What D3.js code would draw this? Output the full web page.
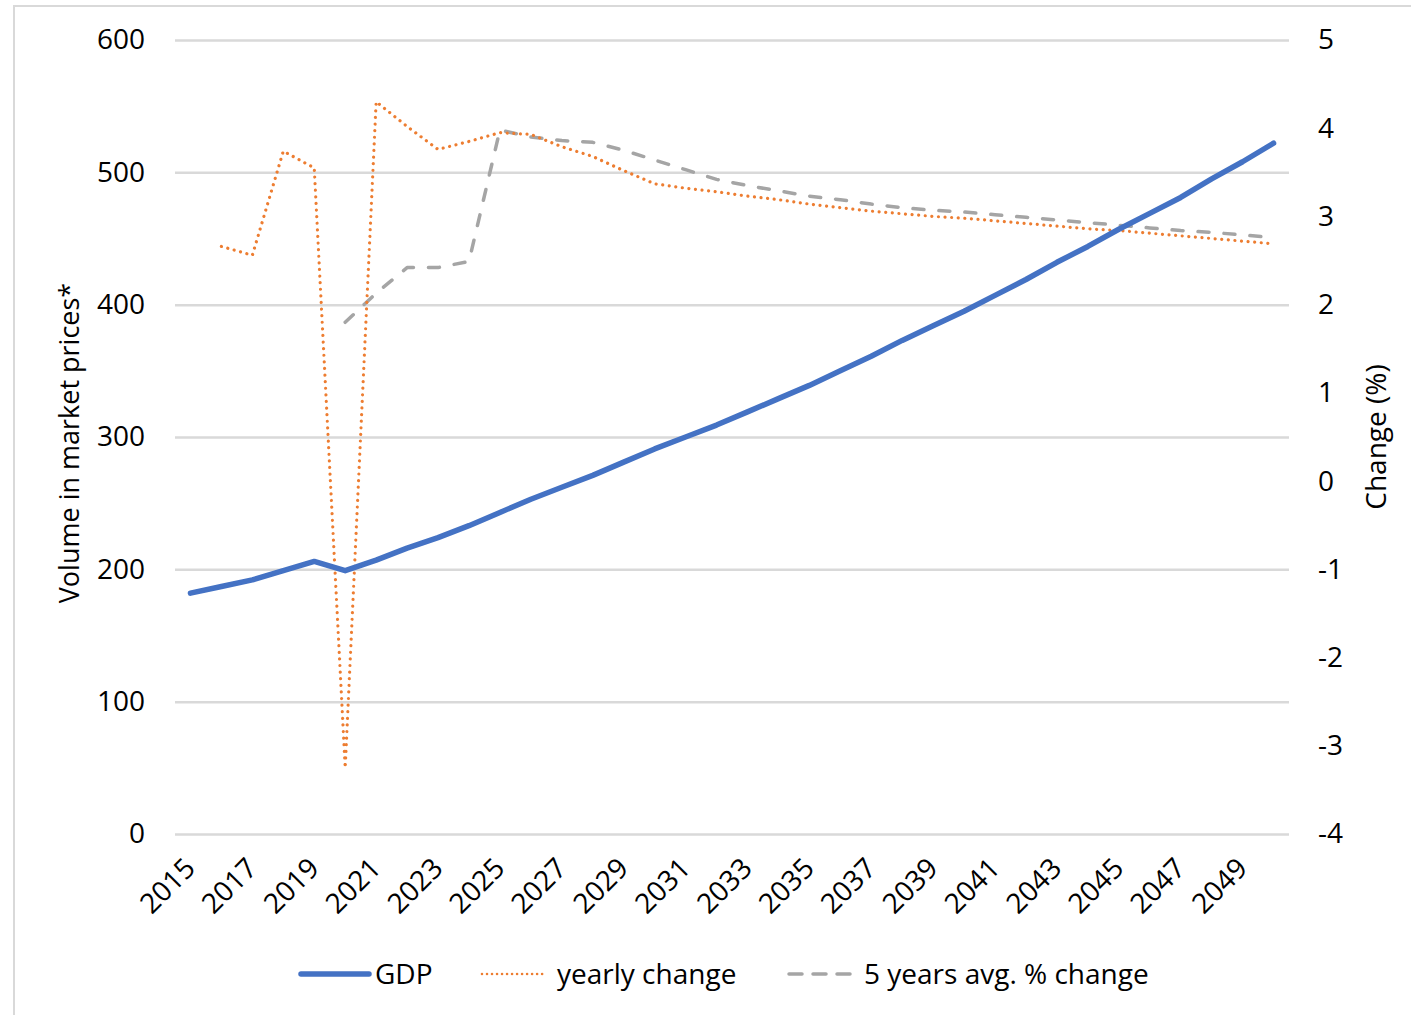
<!DOCTYPE html>
<html>
<head>
<meta charset="utf-8">
<script src="https://cdn.jsdelivr.net/npm/d3@7"></script>
<style>
  html, body { margin: 0; padding: 0; background: #fff; }
  svg text { font-family: "Open Sans", "Noto Sans", sans-serif; fill: #000; }
</style>
</head>
<body>
<svg id="chart" width="1411" height="1015"></svg>
<script>
// Years on the category axis
const years = d3.range(2015, 2051);

// GDP, volume in market prices (left axis)
const gdp = [182, 187, 192, 199, 206, 199, 207, 216, 224, 233,
             243, 253, 262, 271, 281, 291, 300, 309, 319, 329,
             339, 350, 361, 373, 384, 395, 407, 419, 432, 444,
             457, 469, 481, 495, 508, 522];

// Yearly change in % (right axis), from 2016
const yearlyChange = [null, 2.66, 2.56, 3.74, 3.55, -3.25, 4.30, 4.02, 3.76, 3.85,
                      3.95, 3.93, 3.79, 3.68, 3.52, 3.37, 3.32, 3.28, 3.23, 3.19,
                      3.14, 3.10, 3.06, 3.03, 3.00, 2.98, 2.95, 2.92, 2.89, 2.86,
                      2.84, 2.81, 2.78, 2.75, 2.72, 2.69];

// 5 years average % change (right axis), from 2020
const avgChange5y = [null, null, null, null, null, 1.80, 2.13, 2.42, 2.42, 2.49,
                     3.98, 3.90, 3.86, 3.84, 3.75, 3.64, 3.53, 3.42, 3.35, 3.29,
                     3.23, 3.19, 3.14, 3.10, 3.07, 3.05, 3.02, 2.99, 2.96, 2.93,
                     2.90, 2.87, 2.84, 2.82, 2.79, 2.76];

// Axis ticks
const leftTicks = [0, 100, 200, 300, 400, 500, 600];
const rightTicks = [-4, -3, -2, -1, 0, 1, 2, 3, 4, 5];
const xTickYears = d3.range(2015, 2050, 2);
const xTickLabels = xTickYears.map(String);

const seriesNames = ["GDP", "yearly change", "5 years avg. % change"];
const leftTitle = "Volume in market prices*";
const rightTitle = "Change (%)";

const svg = d3.select("#chart");
const plot = { left: 175, right: 1289, top: 40, bottom: 834 };
const fs = 28;

// outer chart frame
svg.append("rect")
  .attr("x", 14).attr("y", 6)
  .attr("width", 1411).attr("height", 1015)
  .attr("fill", "none").attr("stroke", "#d9d9d9").attr("stroke-width", 2);

const x = d3.scaleBand().domain(years).range([plot.left, plot.right]).padding(0);
const xc = d => x(d) + x.bandwidth() / 2;
const yL = d3.scaleLinear().domain([0, 600]).range([plot.bottom, plot.top]);
const yR = d3.scaleLinear().domain([-4, 5]).range([plot.bottom, plot.top]);

// left axis with gridlines
const gL = svg.append("g")
  .attr("transform", `translate(${plot.left},0)`)
  .call(d3.axisLeft(yL).tickValues(leftTicks).tickFormat(d => String(d))
    .tickSize(-(plot.right - plot.left)).tickPadding(30));
gL.select(".domain").remove();
gL.selectAll(".tick line").attr("stroke", "#d9d9d9").attr("stroke-width", 2.5);
gL.selectAll(".tick text").attr("font-size", fs).attr("fill", "#000");

// right axis (plain hyphen for negatives)
const gR = svg.append("g")
  .attr("transform", `translate(${plot.right},0)`)
  .call(d3.axisRight(yR).tickValues(rightTicks).tickFormat(d => String(d))
    .tickSize(0).tickPadding(29));
gR.select(".domain").remove();
gR.selectAll(".tick text").attr("font-size", fs).attr("fill", "#000");

// category axis with rotated labels
const gX = svg.append("g")
  .attr("transform", `translate(0,${plot.bottom})`)
  .call(d3.axisBottom(x).tickValues(xTickYears).tickSize(0)
    .tickFormat((d, i) => xTickLabels[i]));
gX.select(".domain").remove();
gX.selectAll(".tick text")
  .attr("font-size", fs).attr("fill", "#000")
  .attr("text-anchor", "end")
  .attr("y", 0).attr("dy", 0)
  .attr("transform", `translate(${x.bandwidth() / 2 - 9},36) rotate(-45)`);

// axis titles
svg.append("text")
  .attr("transform", `translate(79,443) rotate(-90)`)
  .attr("text-anchor", "middle").attr("font-size", 27)
  .text(leftTitle);
svg.append("text")
  .attr("transform", `translate(1386,437) rotate(-90)`)
  .attr("text-anchor", "middle").attr("font-size", fs)
  .text(rightTitle);

// series
const lineL = d3.line()
  .defined(d => d[1] != null)
  .x(d => xc(d[0])).y(d => yL(d[1]));
const lineR = d3.line()
  .defined(d => d[1] != null)
  .x(d => xc(d[0])).y(d => yR(d[1]));

svg.append("path")
  .datum(years.map((yr, i) => [yr, avgChange5y[i]]))
  .attr("d", lineR)
  .attr("fill", "none").attr("stroke", "#a5a5a5").attr("stroke-width", 3.5)
  .attr("stroke-dasharray", "11 15").attr("stroke-linecap", "round")
  .attr("stroke-linejoin", "round");

svg.append("path")
  .datum(years.map((yr, i) => [yr, yearlyChange[i]]))
  .attr("d", lineR)
  .attr("fill", "none").attr("stroke", "#ed7d31").attr("stroke-width", 3.2)
  .attr("stroke-dasharray", "0.01 6.6").attr("stroke-linecap", "round")
  .attr("stroke-linejoin", "round");

svg.append("path")
  .datum(years.map((yr, i) => [yr, gdp[i]]))
  .attr("d", lineL)
  .attr("fill", "none").attr("stroke", "#4472c4").attr("stroke-width", 5.5)
  .attr("stroke-linecap", "round").attr("stroke-linejoin", "round");

// legend
const legendY = 974;
const legendItems = [
  { name: seriesNames[0], x0: 301, x1: 369, tx: 375, stroke: "#4472c4", w: 5.5, dash: null },
  { name: seriesNames[1], x0: 482, x1: 546, tx: 557, stroke: "#ed7d31", w: 2.6, dash: "0.01 5" },
  { name: seriesNames[2], x0: 789, x1: 855, tx: 864, stroke: "#a5a5a5", w: 3.5, dash: "13 11" }
];
const lg = svg.append("g");
legendItems.forEach(it => {
  const l = lg.append("line")
    .attr("x1", it.x0).attr("x2", it.x1)
    .attr("y1", legendY).attr("y2", legendY)
    .attr("stroke", it.stroke).attr("stroke-width", it.w)
    .attr("stroke-linecap", "round");
  if (it.dash) l.attr("stroke-dasharray", it.dash);
  lg.append("text")
    .attr("x", it.tx).attr("y", legendY).attr("dy", "0.35em")
    .attr("font-size", fs).text(it.name);
});
</script>
</body>
</html>
